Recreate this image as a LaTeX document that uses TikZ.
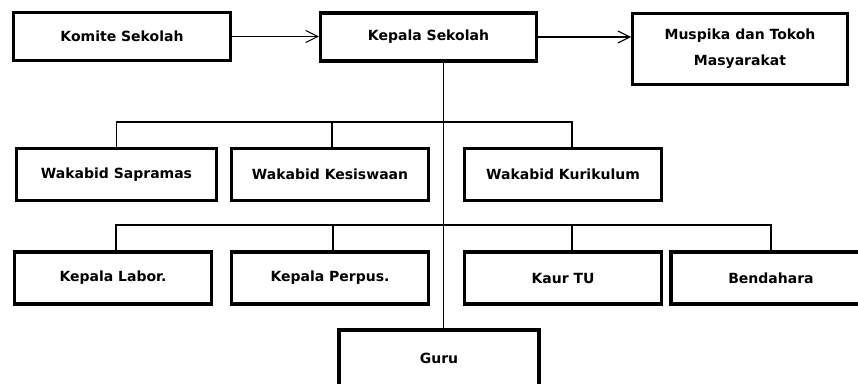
\documentclass[tikz,border=0pt]{standalone}
\usepackage{fontspec}
\setmainfont{DejaVu Sans}
\usetikzlibrary{arrows.meta}

\begin{document}
\begin{tikzpicture}[x=0.75pt, y=-0.75pt,
    unit/.style = {draw, line width=2.4pt, inner sep=0pt, minimum width=148pt, minimum height=39pt,
                   font=\fontsize{10.5}{12}\selectfont\bfseries},
    link/.style = {line width=0.8pt},
    flow/.style = {line width=0.8pt, -{Straight Barb[length=9pt, width=9pt, line width=0.8pt]}}]
    \useasboundingbox (0,0) rectangle (858,384);

    % top row
    \node[unit, minimum width=163pt, minimum height=36pt] (komite) at (122,36.5) {Komite Sekolah};
    \node[unit, minimum width=162pt, minimum height=36pt] (kepsek) at (428.5,37) {Kepala Sekolah};
    \node[unit, minimum width=161pt, minimum height=53pt, align=center,
          font=\fontsize{10.5}{19.5}\selectfont\bfseries] (muspika) at (740,49) {Muspika dan Tokoh\\Masyarakat};

    % wakabid row
    \node[unit, minimum width=150pt] (sapramas) at (116.5,174.5) {Wakabid Sapramas};
    \node[unit] (kesiswaan) at (330,174.5) {Wakabid Kesiswaan};
    \node[unit] (kurikulum) at (563,174.5) {Wakabid Kurikulum};

    % staf row
    \node[unit] (labor) at (113,278) {Kepala Labor.};
    \node[unit] (perpus) at (330,278) {Kepala Perpus.};
    \node[unit] (kaur) at (563,278) {Kaur TU};
    \node[unit, minimum width=150pt] (bendahara) at (771,278) {Bendahara};

    \node[unit, minimum width=150pt, minimum height=42pt] (guru) at (439,358) {Guru};

    \draw[flow] (komite.east) -- (komite.east -| kepsek.west);
    \draw[flow] (kepsek.east) -- (kepsek.east -| muspika.west);

    % trunk and buses
    \coordinate (trunk) at ([xshift=11.25pt]kepsek.south);
    \draw[link] (trunk) -- (trunk |- guru.north);

    \coordinate (bus2) at (0,122);
    \draw[link] (sapramas.north) |- ([xshift=6.75pt]kurikulum.north |- bus2) -- ([xshift=6.75pt]kurikulum.north);
    \draw[link] ([xshift=1.5pt]kesiswaan.north) -- ([xshift=1.5pt]kesiswaan.north |- bus2);

    \coordinate (bus3) at (0,225);
    \draw[link] ([xshift=2.25pt]labor.north) |- (bendahara.north |- bus3) -- (bendahara.north);
    \draw[link] ([xshift=2.25pt]perpus.north) -- ([xshift=2.25pt]perpus.north |- bus3);
    \draw[link] ([xshift=6.75pt]kaur.north) -- ([xshift=6.75pt]kaur.north |- bus3);
\end{tikzpicture}
\end{document}
